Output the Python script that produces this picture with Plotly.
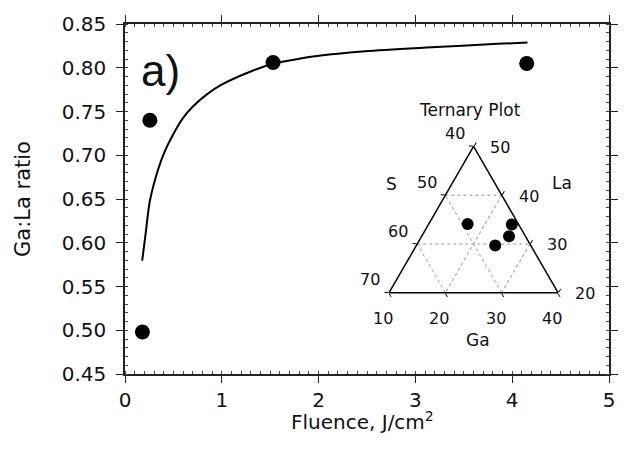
import plotly.graph_objects as go

# Main data: Ga:La ratio vs fluence
fluence = [0.18, 0.257, 1.53, 4.15]
ratio = [0.498, 0.740, 0.806, 0.805]

# Fitted curve
fit_x = [0.1776, 0.2125, 0.2567, 0.3419, 0.4107, 0.4959, 0.5986, 0.7012, 0.8388, 0.9928,
         1.3172, 1.5298, 1.7967, 2.0021, 2.4815, 3.1653, 3.85, 4.158]
fit_y = [0.5795, 0.6099, 0.6477, 0.6838, 0.7045, 0.7235, 0.7424, 0.7557, 0.7690, 0.7803,
         0.7966, 0.8045, 0.8102, 0.8136, 0.8188, 0.8233, 0.8273, 0.8288]

# Ternary inset composition (at.%)
tern_La = [34.1, 34.0, 31.6, 29.7]
tern_S = [49.0, 41.2, 42.9, 46.3]
tern_Ga = [16.9, 24.8, 25.5, 24.0]

# Ternary tick labels (per edge)
S_ticks = [40, 50, 60, 70]     # left edge, top -> bottom-left
Ga_ticks = [10, 20, 30, 40]    # bottom edge, left -> right
La_ticks = [20, 30, 40, 50]    # right edge, bottom -> top

x_ticks = [0, 1, 2, 3, 4, 5]
y_ticks = [0.45, 0.50, 0.55, 0.60, 0.65, 0.70, 0.75, 0.80, 0.85]

FONT = "DejaVu Sans"
W, H = 630, 452
ML, MR, MT, MB = 125, 18, 22, 78
PW, PH = W - ML - MR, H - MT - MB

TD_X = [0.5456, 0.8947]
TD_Y = [0.2321, 0.6503]

fig = go.Figure()
fig.add_trace(go.Scatter(x=fit_x, y=fit_y, mode="lines",
                         line=dict(color="black", width=2, shape="spline", smoothing=0.8),
                         showlegend=False, hoverinfo="skip"))
fig.add_trace(go.Scatter(x=fluence, y=ratio, mode="markers",
                         marker=dict(color="black", size=15),
                         showlegend=False))
fig.add_trace(go.Scatterternary(a=tern_La, b=tern_S, c=tern_Ga, mode="markers",
                                marker=dict(color="black", size=12),
                                showlegend=False))

axis_common = dict(showline=True, linecolor="#222", linewidth=1.5, mirror="allticks",
                   ticks="outside", ticklen=7, tickwidth=1.3, tickcolor="#222",
                   showgrid=False, zeroline=False,
                   tickfont=dict(family=FONT, size=20, color="#111"))

tern_axis = dict(title=dict(text=""), showgrid=True, gridcolor="#999", griddash="dot",
                 gridwidth=1, linecolor="black", linewidth=1.5, ticks="outside",
                 ticklen=4, tickcolor="black", showticklabels=False)


def tern_to_paper(la, ga):
    """Position on the inset triangle (La top, S bottom-left, Ga bottom-right)."""
    fl = (la - 20) / 30.0
    fg = (ga - 10) / 30.0
    x = TD_X[0] + (TD_X[1] - TD_X[0]) * (fg + fl / 2.0)
    y = TD_Y[0] + (TD_Y[1] - TD_Y[0]) * fl
    return x, y


annotations = [
    dict(text="a)", x=0.37, y=0.797, xref="x", yref="y", showarrow=False,
         xanchor="center", yanchor="middle",
         font=dict(family="Liberation Sans", size=44, color="#111")),
    dict(text="Fluence, J/cm<sup>2</sup>", x=0.49, y=-0.135, xref="paper", yref="paper",
         showarrow=False, xanchor="center", yanchor="middle",
         font=dict(family=FONT, size=20, color="#111")),
]


def add_label(text, x, y, size, dx=0, dy=0):
    annotations.append(dict(text=text, x=x + dx / PW, y=y - dy / PH, xref="paper",
                            yref="paper", showarrow=False, xanchor="center",
                            yanchor="middle",
                            font=dict(family=FONT, size=size, color="#111")))


# Inset titles
add_label("Ternary Plot", (471.7 - ML) / PW, (H - MB - 108) / PH, 17)
add_label("S", (392.7 - ML) / PW, (H - MB - 183.3) / PH, 17)
add_label("La", (565 - ML) / PW, (H - MB - 181.7) / PH, 17)
add_label("Ga", (480 - ML) / PW, (H - MB - 340) / PH, 17)

# Left edge: S (Ga = 10 there, La = 90 - S)
for s in S_ticks:
    x, y = tern_to_paper(90 - s, 10)
    add_label(str(s), x, y, 16, dx=-19, dy=-13)
# Bottom edge: Ga (La = 20 there)
for g in Ga_ticks:
    x, y = tern_to_paper(20, g)
    add_label(str(g), x, y, 16, dx=-6, dy=26)
# Right edge: La (S = 40 there, Ga = 60 - La)
for la in La_ticks:
    x, y = tern_to_paper(la, 60 - la)
    add_label(str(la), x, y, 16, dx=27, dy=1)

fig.update_layout(
    width=W, height=H,
    margin=dict(l=ML, r=MR, t=MT, b=MB),
    paper_bgcolor="white", plot_bgcolor="white",
    font=dict(family=FONT, color="#111"),
    xaxis=dict(range=[0, 5], tickvals=x_ticks, ticklabelstandoff=0,
               minor=dict(ticks="inside", ticklen=3, dtick=0.1, tickcolor="#444"),
               **axis_common),
    yaxis=dict(range=[0.45, 0.85], tickvals=y_ticks, tickformat=".2f", ticklabelstandoff=6,
               minor=dict(ticks="inside", ticklen=3, dtick=0.01, tickcolor="#444"),
               title=dict(text="Ga:La ratio", font=dict(family=FONT, size=21), standoff=25),
               **axis_common),
    ternary=dict(
        domain=dict(x=TD_X, y=TD_Y),
        sum=100,
        bgcolor="rgba(0,0,0,0)",
        aaxis=dict(min=20, **tern_axis),
        baxis=dict(min=40, **tern_axis),
        caxis=dict(min=10, **tern_axis),
    ),
    annotations=annotations,
)

fig.write_html("out.html")
